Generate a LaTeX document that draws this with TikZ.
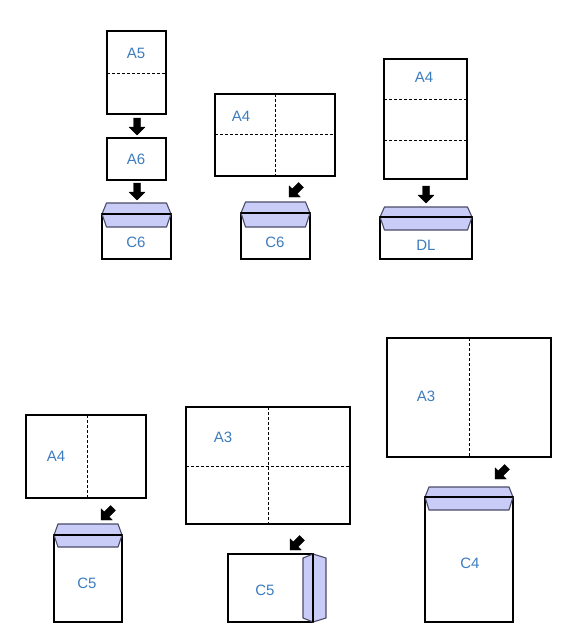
\documentclass[tikz,border=0pt]{standalone}
\usepackage{fontspec}
\setmainfont{Liberation Sans}
\definecolor{lbl}{RGB}{62,124,192}
\definecolor{flapfill}{RGB}{201,204,246}
\definecolor{flapline}{RGB}{75,75,105}
\tikzset{
  sheet/.style={draw=black,line width=1.1pt,fill=white},
  fold/.style={draw=black,line width=0.8pt,dash pattern=on 3pt off 2pt},
  flap/.style={draw=flapline,line width=1.1pt,fill=flapfill,line join=round},
  lab/.style={text=lbl,font=\fontsize{15}{15}\selectfont,inner sep=0pt},
  blockarrow/.style={fill=black,draw=black,line width=0.4pt,line join=round}
}
\newcommand{\barrow}[3]{% tip x, tip y, rotation
  \begin{scope}[shift={(#1,#2)},rotate=#3]
    \path[blockarrow] (0,0) -- (8,-8) -- (3.5,-8) -- (3.5,-17) -- (-3.5,-17) -- (-3.5,-8) -- (-8,-8) -- cycle;
  \end{scope}}
% top flap envelope: x1 x2 (body), ytop(body), ybottom, flap top y, flap bottom y, inset
\newcommand{\envtop}[7]{%
  \path[sheet] (#1,#3) rectangle (#2,#4);
  \path[flap] (#1+#7,#5) -- (#2-#7,#5) -- (#2,#3) -- (#2-#7,#6) -- (#1+#7,#6) -- (#1,#3) -- cycle;
  \draw[line width=1.1pt] (#1,#3) -- (#2,#3);}
\begin{document}
\begin{tikzpicture}[x=1pt,y=-1pt]
\useasboundingbox[fill=white] (0,0) rectangle (581,642);

% ---------- group 1 ----------
\path[sheet] (107,31) rectangle (166,114);
\draw[fold] (107,73) -- (166,73);
\node[lab] (a5) at (136,53) {A5};
\barrow{137}{135}{0}
\path[sheet] (107,138) rectangle (166,180);
\node[lab] (a6) at (136,159) {A6};
\barrow{137}{200}{0}
\envtop{102}{171}{214}{259}{203}{227}{4.5}
\node[lab] (c6a) at (136,242) {C6};

% ---------- group 2 ----------
\path[sheet] (215,94) rectangle (335,176);
\draw[fold] (275,94) -- (275,176);
\draw[fold] (215,134) -- (335,134);
\node[lab] (a4a) at (241,116) {A4};
\barrow{289}{197}{-45}
\envtop{241}{310}{213}{259}{202}{227}{4.5}
\node[lab] (c6b) at (275,242) {C6};

% ---------- group 3 ----------
\path[sheet] (384,59) rectangle (467,179);
\draw[fold] (384,99) -- (467,99);
\draw[fold] (384,140) -- (467,140);
\node[lab] (a4b) at (424,77) {A4};
\barrow{426}{203}{0}
\envtop{380}{472}{217}{259}{207}{230}{4.5}
\node[lab] (dl) at (426,245) {DL};

% ---------- group 4 ----------
\path[sheet] (26,415) rectangle (146,498);
\draw[fold] (87,415) -- (87,498);
\node[lab] (a4c) at (56,456) {A4};
\barrow{101}{520}{-45}
\envtop{54}{122}{535}{622}{524}{547}{4}
\node[lab] (c5a) at (87,583) {C5};

% ---------- group 5 ----------
\path[sheet] (186,407) rectangle (350,524);
\draw[fold] (268,407) -- (268,524);
\draw[fold] (186,466) -- (350,466);
\node[lab] (a3a) at (223,437) {A3};
\barrow{290}{550}{-45}
\path[sheet] (228,554) rectangle (313,622);
\path[flap] (303,558) -- (313,554) -- (326,558) -- (326,618) -- (313,622) -- (303,618) -- cycle;
\draw[line width=1.1pt] (313,554) -- (313,622);
\node[lab] (c5b) at (265,590) {C5};

% ---------- group 6 ----------
\path[sheet] (387,338) rectangle (551,457);
\draw[fold] (469,338) -- (469,457);
\node[lab] (a3b) at (426,396) {A3};
\barrow{495}{479}{-45}
\envtop{425}{513}{497}{622}{487}{510}{4}
\node[lab] (c4) at (470,563) {C4};
\end{tikzpicture}
\end{document}
